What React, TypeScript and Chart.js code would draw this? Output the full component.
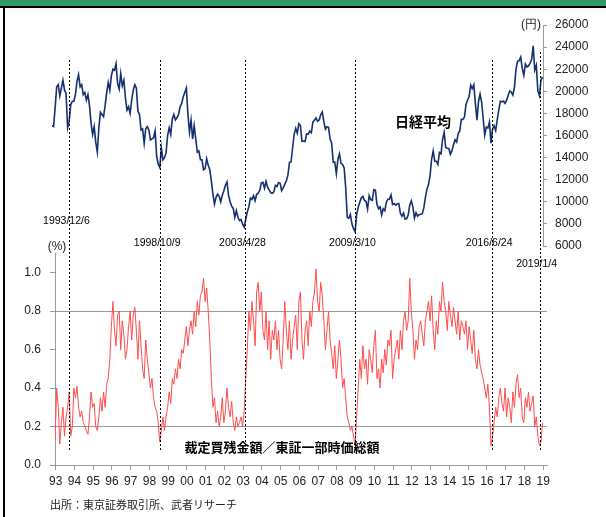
import React, { useEffect, useRef } from "react";
import { Chart, registerables } from "chart.js";
Chart.register(...registerables);

// ---- data ----
const START_YEAR = 1993; // monthly series start (Jan 1993)

const yearTicks = [1993, 1994, 1995, 1996, 1997, 1998, 1999, 2000, 2001, 2002, 2003, 2004, 2005, 2006, 2007, 2008, 2009, 2010, 2011, 2012, 2013, 2014, 2015, 2016, 2017, 2018, 2019];
const yearLabels = ["93", "94", "95", "96", "97", "98", "99", "00", "01", "02", "03", "04", "05", "06", "07", "08", "09", "10", "11", "12", "13", "14", "15", "16", "17", "18", "19"];

// 日経平均 (円), monthly
const nikkei = [
  16900, 16800, 18500, 20400, 20600, 19600, 20300, 21000, 20100, 19800, 16700, 17300,
  18800, 19100, 19100, 19700, 20900, 21500, 20400, 20600, 19700, 19900, 19200, 19700,
  18700, 17100, 16100, 16800, 15400, 14500, 16700, 18100, 17900, 17700, 18700, 19900,
  20800, 20100, 21400, 22000, 21900, 22500, 20700, 20200, 21600, 20500, 21000, 19400,
  18300, 18600, 18000, 19200, 20100, 20600, 20300, 18200, 17900, 16500, 16600, 15300,
  16600, 16800, 16500, 15600, 15700, 15800, 16400, 14100, 13400, 13100, 14900, 13800,
  14000, 14400, 16000, 16700, 16100, 17500, 17900, 17400, 17600, 17900, 18600, 18900,
  19500, 19900, 20300, 17900, 16300, 17400, 15700, 16900, 15700, 14500, 14600, 13800,
  13800, 12900, 13000, 13900, 13300, 12900, 11900, 10700, 9800, 10400, 10700, 10500,
  10000, 10600, 11000, 11500, 11800, 10600, 10000, 9600, 9400, 8600, 9200, 8600,
  8300, 8400, 7970, 7700, 8420, 9080, 9560, 10340, 10220, 10560, 10100, 10680,
  10780, 11040, 11720, 11760, 11240, 11860, 11330, 11080, 10820, 10770, 10900, 11490,
  11390, 11740, 11670, 11010, 11280, 11580, 11900, 12410, 13570, 13610, 14870, 16110,
  16650, 16210, 17060, 16910, 15470, 15500, 15460, 16140, 16130, 16400, 16270, 17230,
  17380, 17600, 17290, 17400, 17880, 18140, 17250, 16570, 16790, 16740, 15680, 15310,
  13590, 13600, 12530, 13850, 14340, 13480, 13380, 13070, 11260, 8580, 8510, 8860,
  7990, 7570, 7300, 8830, 9520, 9960, 10360, 10490, 10130, 10030, 9350, 10550,
  10200, 10130, 11090, 11060, 9770, 9380, 9540, 8820, 9370, 9200, 9940, 10230,
  10240, 10620, 9760, 9850, 9690, 9820, 9830, 8960, 8700, 8990, 8430, 8460,
  8800, 9720, 10080, 9520, 8540, 9010, 8700, 8840, 8870, 8930, 9450, 10400,
  11140, 11560, 12400, 13860, 14600, 13680, 13670, 13390, 14460, 14330, 15660, 16290,
  14910, 14840, 14830, 14300, 14630, 15160, 15620, 15420, 16170, 16410, 17460, 17450,
  17670, 18800, 19210, 19520, 20560, 20240, 20590, 18890, 17390, 19080, 19750, 19030,
  17520, 16030, 16760, 16670, 17230, 15300, 16570, 16890, 16450, 17430, 18310, 19110,
  19040, 19120, 18910, 19200, 19650, 20030, 19930, 19650, 20360, 22010, 22720, 22760,
  23100, 22070, 21450, 22470, 22200, 22300, 22550, 22870, 24120, 21920, 22350, 20010,
  19600, 21000, 21300,
];

// 裁定買残金額／東証一部時価総額 (%), monthly
const ratio = [
  0.15, 0.14, 0.13, 0.40, 0.30, 0.11, 0.22, 0.30, 0.15, 0.25, 0.30, 0.38,
  0.15, 0.20, 0.40, 0.35, 0.41, 0.30, 0.25, 0.28, 0.22, 0.20, 0.18, 0.16,
  0.25, 0.38, 0.30, 0.32, 0.20, 0.18, 0.25, 0.35, 0.28, 0.38, 0.30, 0.42,
  0.45, 0.55, 0.72, 0.85, 0.70, 0.62, 0.78, 0.80, 0.60, 0.75, 0.68, 0.55,
  0.60, 0.72, 0.80, 0.65, 0.78, 0.82, 0.70, 0.55, 0.75, 0.62, 0.50, 0.45,
  0.65, 0.55, 0.48, 0.40, 0.45, 0.35, 0.30, 0.28, 0.22, 0.12, 0.18, 0.25,
  0.18, 0.25, 0.30, 0.38, 0.32, 0.45, 0.42, 0.50, 0.45, 0.55, 0.50, 0.60,
  0.58, 0.65, 0.72, 0.62, 0.70, 0.75, 0.68, 0.80, 0.72, 0.85, 0.78, 0.88,
  0.90, 0.97, 0.85, 0.92, 0.80, 0.65, 0.45, 0.30, 0.35, 0.22, 0.28, 0.20,
  0.25, 0.35, 0.22, 0.28, 0.40, 0.30, 0.25, 0.33, 0.22, 0.18, 0.25, 0.20,
  0.22, 0.25, 0.20, 0.28, 0.45, 0.60, 0.80, 0.70, 0.85, 0.75, 0.62, 0.90,
  0.95, 0.80, 0.90, 0.70, 0.65, 0.80, 0.60, 0.75, 0.55, 0.70, 0.65, 0.75,
  0.60, 0.70, 0.55, 0.50, 0.65, 0.85, 0.70, 0.60, 0.75, 0.55, 0.65, 0.72,
  0.78, 0.60, 0.85, 0.90, 0.65, 0.55, 0.70, 0.75, 0.62, 0.80, 0.72, 0.85,
  0.90, 1.02, 0.85, 0.80, 0.95, 0.88, 0.75, 0.60, 0.70, 0.80, 0.65, 0.58,
  0.50, 0.62, 0.45, 0.55, 0.65, 0.55, 0.40, 0.45, 0.35, 0.25, 0.22, 0.18,
  0.20, 0.15, 0.10, 0.25, 0.40, 0.55, 0.45, 0.62, 0.50, 0.55, 0.42, 0.60,
  0.55, 0.48, 0.62, 0.70, 0.45, 0.50, 0.40, 0.55, 0.48, 0.60, 0.52, 0.65,
  0.62, 0.70, 0.45, 0.55, 0.60, 0.65, 0.55, 0.70, 0.60, 0.75, 0.80, 0.70,
  0.75, 0.97, 0.80, 0.70, 0.55, 0.65, 0.60, 0.72, 0.75, 0.68, 0.62, 0.75,
  0.80, 0.85, 0.75, 0.88, 0.70, 0.60, 0.75, 0.68, 0.85, 0.80, 0.95, 0.85,
  0.80, 0.70, 0.85, 0.78, 0.72, 0.82, 0.75, 0.68, 0.80, 0.65, 0.75, 0.72,
  0.68, 0.75, 0.60, 0.72, 0.65, 0.58, 0.70, 0.55, 0.50, 0.60, 0.52, 0.48,
  0.45, 0.40, 0.35, 0.42, 0.30, 0.10, 0.15, 0.22, 0.30, 0.25, 0.35, 0.40,
  0.32, 0.28, 0.40, 0.25, 0.35, 0.30, 0.22, 0.38, 0.30, 0.42, 0.47, 0.35,
  0.40, 0.25, 0.22, 0.35, 0.30, 0.38, 0.28, 0.32, 0.36, 0.20, 0.25, 0.15,
  0.10, 0.12, 0.22,
];

// event dates (decimal years) and their labels
const eventDates = [1993.929, 1998.77, 2003.32, 2009.186, 2016.48, 2019.01];
const eventLabels = ["1993/12/6", "1998/10/9", "2003/4/28", "2009/3/10", "2016/6/24", "2019/1/4"];

const nikkeiTicks = { min: 6000, max: 26000, step: 2000 };
const ratioTicks = { min: 0, max: 1.1, step: 0.2 };
const ratioGridValues = [0.2, 0.8];

const X_MIN = 1993;
const X_MAX = 2019.19;

const SANS = "'Liberation Sans', Arial, sans-serif";
const CJK = "'Noto Sans CJK JP', 'Noto Sans', sans-serif";

export default function App() {
  const topRef = useRef<HTMLCanvasElement | null>(null);
  const botRef = useRef<HTMLCanvasElement | null>(null);

  useEffect(() => {
    const nikkeiPts = nikkei.map((v, i) => ({ x: START_YEAR + i / 12, y: v }));
    const ratioPts = ratio.map((v, i) => ({ x: START_YEAR + i / 12, y: v }));

    const framePlugin = {
      id: "frame",
      beforeDraw(chart: any) {
        const ctx = chart.ctx;
        ctx.save();
        ctx.fillStyle = "#ffffff";
        ctx.fillRect(0, 0, chart.width, chart.height);
        ctx.fillStyle = "#339966";
        ctx.fillRect(0, 0, chart.width, 6);
        ctx.fillStyle = "#000000";
        ctx.fillRect(0, 6, chart.width, 2);
        ctx.fillRect(3, 6, 2, chart.height - 6);
        ctx.restore();
      },
      afterDraw(chart: any) {
        const ctx = chart.ctx;
        ctx.save();
        ctx.fillStyle = "#222";
        ctx.font = `11px ${CJK}`;
        ctx.textBaseline = "middle";
        ctx.textAlign = "left";
        ctx.fillText("出所：東京証券取引所、武者リサーチ", 50, 505);
        ctx.restore();
      },
    };

    const overlayPlugin = {
      id: "overlay",
      afterDraw(chart: any) {
        const ctx = chart.ctx;
        const xs = chart.scales.x;
        ctx.save();
        // dashed event lines
        ctx.strokeStyle = "#000";
        ctx.lineWidth = 1;
        ctx.setLineDash([2, 2]);
        eventDates.forEach((d, i) => {
          const px = Math.round(xs.getPixelForValue(d)) + 0.5;
          const top = i === eventDates.length - 1 ? 52 : 60;
          ctx.beginPath();
          ctx.moveTo(px, top);
          ctx.lineTo(px, 452);
          ctx.stroke();
        });
        ctx.setLineDash([]);
        // event labels
        ctx.fillStyle = "#000";
        ctx.font = `10.5px ${SANS}`;
        ctx.textAlign = "center";
        ctx.textBaseline = "middle";
        eventDates.forEach((d, i) => {
          const px = xs.getPixelForValue(d);
          const y = i === 0 ? 221 : i === eventDates.length - 1 ? 264 : 243;
          ctx.fillText(eventLabels[i], px - 3, y);
        });
        // unit labels
        ctx.font = `12px ${SANS}`;
        ctx.fillStyle = "#222";
        ctx.fillText("(円)", 531, 25);
        ctx.fillText("(%)", 57, 247);
        // series labels
        ctx.fillStyle = "#000";
        ctx.font = `bold 14px ${CJK}`;
        ctx.fillText("日経平均", 423, 122);
        ctx.font = `bold 13px ${CJK}`;
        ctx.fillText("裁定買残金額／東証一部時価総額", 282, 447);
        ctx.restore();
      },
    };

    const top = new Chart(topRef.current as HTMLCanvasElement, {
      type: "line",
      data: {
        datasets: [
          {
            data: nikkeiPts,
            borderColor: "#14306e",
            borderWidth: 1.6,
            pointRadius: 0,
            tension: 0,
          },
        ],
      },
      options: {
        responsive: false,
        animation: false,
        layout: { padding: { left: 52, right: 0, top: 25, bottom: 271 } },
        plugins: { legend: { display: false }, tooltip: { enabled: false } },
        scales: {
          x: { type: "linear", display: false, min: X_MIN, max: X_MAX },
          y: {
            position: "right",
            min: nikkeiTicks.min,
            max: nikkeiTicks.max,
            ticks: {
              stepSize: nikkeiTicks.step,
              color: "#222",
              font: { family: SANS, size: 12 },
              padding: 8,
              callback: (v: any) => String(Math.round(Number(v))),
            },
            grid: { drawOnChartArea: false, tickLength: 4, color: "#999", tickColor: "#999" },
            border: { color: "#999" },
            afterFit: (s: any) => {
              s.width = 63;
            },
          },
        },
      },
      plugins: [overlayPlugin],
    } as any);

    const bot = new Chart(botRef.current as HTMLCanvasElement, {
      type: "line",
      data: {
        datasets: [
          {
            data: ratioPts,
            borderColor: "#ff4d4d",
            borderWidth: 1,
            pointRadius: 0,
            tension: 0,
          },
        ],
      },
      options: {
        responsive: false,
        animation: false,
        layout: { padding: { left: 0, right: 59, top: 253.5, bottom: 22 } },
        plugins: { legend: { display: false }, tooltip: { enabled: false } },
        scales: {
          x: {
            type: "linear",
            min: 1993.16,
            max: 2019.404,
            afterBuildTicks: (s: any) => {
              s.ticks = yearTicks.map((y) => ({ value: y + 0.2 }));
            },
            ticks: {
              autoSkip: false,
              maxRotation: 0,
              color: "#222",
              font: { family: SANS, size: 12 },
              padding: 4,
              callback: (_v: any, i: number) => yearLabels[i],
            },
            grid: { drawOnChartArea: false, tickLength: 5, color: "#999", tickColor: "#999" },
            border: { color: "#999" },
            afterFit: (s: any) => {
              s.height = 30;
            },
          },
          y: {
            position: "left",
            min: ratioTicks.min,
            max: ratioTicks.max,
            ticks: {
              stepSize: ratioTicks.step,
              includeBounds: false,
              color: "#222",
              font: { family: SANS, size: 12 },
              padding: 9,
              callback: (v: any) => Number(v).toFixed(1),
            },
            grid: {
              tickLength: 5,
              tickColor: "#999",
              color: (c: any) =>
                c.tick && ratioGridValues.some((g) => Math.abs(c.tick.value - g) < 1e-6) ? "#999" : "rgba(0,0,0,0)",
            },
            border: { color: "#999" },
            afterFit: (s: any) => {
              s.width = 55;
            },
          },
        },
      },
      plugins: [framePlugin],
    } as any);

    return () => {
      top.destroy();
      bot.destroy();
    };
  }, []);

  const cStyle: React.CSSProperties = { position: "absolute", left: 0, top: 0, width: 606, height: 517 };
  return (
    <div style={{ position: "fixed", left: 0, top: 0, width: 606, height: 517, background: "#fff" }}>
      <canvas ref={botRef} width={606} height={517} style={cStyle} />
      <canvas ref={topRef} width={606} height={517} style={cStyle} />
    </div>
  );
}
